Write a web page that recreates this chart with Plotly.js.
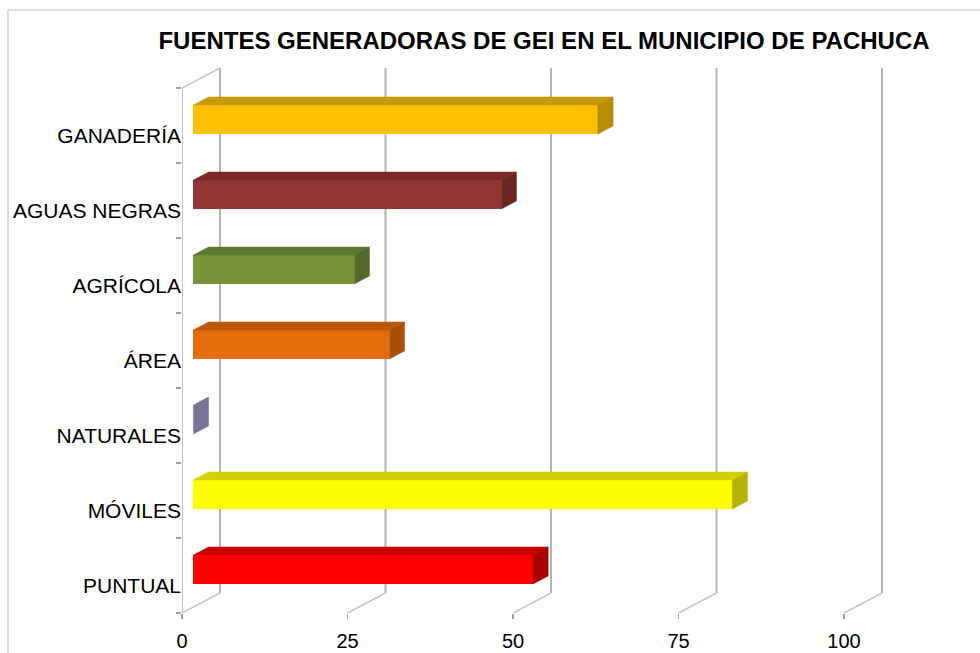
<!DOCTYPE html>
<html><head><meta charset="utf-8">
<script src="https://cdn.plot.ly/plotly-3.0.1.min.js"></script>
<style>html,body{margin:0;padding:0;background:#fff}#chart{width:980px;height:653px}</style>
</head><body><div id="chart"></div>
<script>
// ---- data ----
const categories = ["PUNTUAL","MÓVILES","NATURALES","ÁREA","AGRÍCOLA","AGUAS NEGRAS","GANADERÍA"];
const values = [51.3, 81.4, 0, 29.6, 24.3, 46.5, 61.1];
const frontColors = ["#FF0000","#FFFF00","#8A84A6","#E46C0A","#77933C","#953735","#FFC000"];
const topColors = ["#C80000","#D2D200","#7F7A9E","#BC5908","#5F7830","#7A2B29","#C99A00"];
const sideColors = ["#A80000","#B4B400","#7A7396","#A94F07","#536A2A","#6A2523","#B88C00"];
const xTicks = [0,25,50,75,100];
const chartTitle = "FUENTES GENERADORAS DE GEI EN EL MUNICIPIO DE PACHUCA";

// ---- geometry ----
const W=980,H=653,L=182,R=96,T=65,B=40;
const pxX=6.62, pxY=75;
const xmax=(W-L-R)/pxX, ymin=-0.5, ymax=ymin+(H-T-B)/pxY;
const DX=38/pxX, DY=20/pxY;
const f0=0.3, f1=0.7, hh=29/2/pxY;
const n=categories.length;
const idx=categories.map((c,i)=>i);

function px2paperX(p){return (p-L)/(W-L-R);}
function px2paperY(p){return 1-(p-T)/(H-T-B);}

const grid='#b3b3b3', wall='#c4c4c4';
const shapes=[];
xTicks.forEach(t=>{
  shapes.push({type:'line',layer:'below',x0:t+DX,x1:t+DX,y0:-0.5+DY,y1:n-0.5+DY,line:{color:grid,width:2}});
  shapes.push({type:'line',layer:'below',x0:t,x1:t+DX,y0:-0.5,y1:-0.5+DY,line:{color:wall,width:1.5}});
});
shapes.push({type:'line',layer:'below',x0:0,x1:0,y0:-0.5,y1:n-0.5,line:{color:wall,width:2}});
shapes.push({type:'line',layer:'below',x0:0,x1:DX,y0:n-0.5,y1:n-0.5+DY,line:{color:wall,width:1.5}});
// chart frame
shapes.push({type:'line',xref:'paper',yref:'paper',x0:px2paperX(8),x1:px2paperX(8),y0:px2paperY(10),y1:px2paperY(H),line:{color:'#d0d0d0',width:1.5}});
shapes.push({type:'line',xref:'paper',yref:'paper',x0:px2paperX(8),x1:px2paperX(W),y0:px2paperY(10),y1:px2paperY(10),line:{color:'#d0d0d0',width:1.5}});

const traces=[];
traces.push({type:'bar',orientation:'h',y:idx.map(i=>i+f0*DY),x:values,base:values.map(()=>f0*DX),
  width:2*hh,marker:{color:frontColors,line:{width:0}},showlegend:false,hoverinfo:'x'});
idx.forEach(i=>{
  const v=values[i], ox=f0*DX, yc=i+f0*DY, d=(f1-f0);
  const yt=yc+hh, yb=yc-hh;
  if(v>0){
    traces.push({type:'scatter',mode:'lines',fill:'toself',fillcolor:topColors[i],line:{color:topColors[i],width:0.5},
      x:[ox,ox+v,ox+v+d*DX,ox+d*DX,ox],y:[yt,yt,yt+d*DY,yt+d*DY,yt],showlegend:false,hoverinfo:'skip'});
  }
  traces.push({type:'scatter',mode:'lines',fill:'toself',fillcolor:sideColors[i],line:{color:sideColors[i],width:0.5},
    x:[ox+v,ox+v,ox+v+d*DX,ox+v+d*DX,ox+v],y:[yb,yt,yt+d*DY,yb+d*DY,yb],showlegend:false,hoverinfo:'skip'});
});

const layout={
  width:W,height:H,margin:{l:L,r:R,t:T,b:B},
  paper_bgcolor:'#ffffff',plot_bgcolor:'rgba(0,0,0,0)',
  font:{family:'Liberation Sans, Arial, sans-serif',color:'#000'},
  title:{text:chartTitle,font:{size:24,family:'Liberation Sans, Arial, sans-serif',weight:'bold',color:'#000'},
    x:544/W,xref:'container',xanchor:'center',y:1-41/H,yref:'container',yanchor:'middle'},
  xaxis:{range:[0,xmax],tickvals:xTicks,ticktext:xTicks.map(String),ticks:'outside',ticklen:5,tickwidth:1.5,tickcolor:'#a0a0a0',
    showgrid:false,zeroline:false,showline:false,tickfont:{size:20},ticklabelstandoff:5,fixedrange:true},
  yaxis:{range:[ymin,ymax],tickvals:idx,ticktext:categories,ticks:'',showgrid:false,zeroline:false,showline:false,
    tickfont:{size:21},ticklabelshift:10,ticklabelstandoff:0,
    minor:{tickmode:'linear',tick0:-0.5,dtick:1,ticks:'outside',ticklen:5,tickwidth:1.5,tickcolor:'#a0a0a0',showgrid:false},fixedrange:true},
  shapes:shapes,bargap:0,showlegend:false
};
Plotly.newPlot('chart',traces,layout,{displayModeBar:false,staticPlot:true});
</script></body></html>
